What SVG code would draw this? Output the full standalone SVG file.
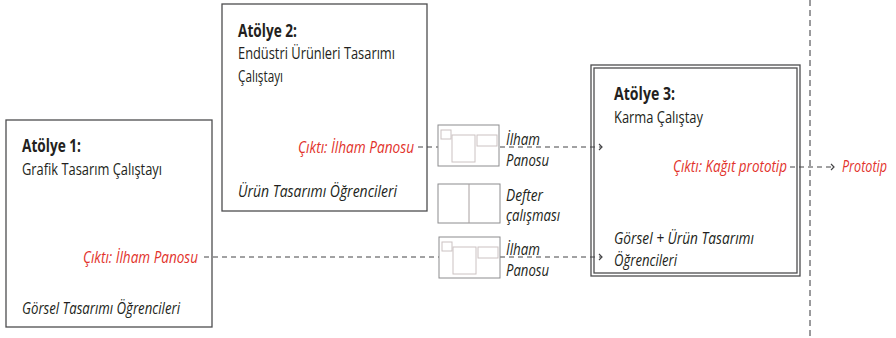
<svg xmlns="http://www.w3.org/2000/svg" xmlns:xlink="http://www.w3.org/1999/xlink" width="896" height="338" viewBox="0 0 896 338">
  <style>
    .box { fill: #ffffff; stroke: #4d4d4f; stroke-width: 1.3; }
    .t { font-family: "Open Sans", "Noto Sans", "Liberation Sans", sans-serif; font-size: 17px; fill: #231f20; }
    .b { font-weight: bold; }
    .i { font-style: italic; }
    .red { fill: #e2322b; font-style: italic; }
    .dash { fill: none; stroke: #444446; stroke-width: 1; stroke-dasharray: 5 4; }
    .divider { fill: none; stroke: #7a7a7c; stroke-width: 1.5; stroke-dasharray: 6 4; }
    .frame { fill: #ffffff; stroke: #8c8c8e; stroke-width: 1; }
    .inner { fill: none; stroke: #cbc2c2; stroke-width: 1; }
  </style>
  <defs>
    <marker id="chev" markerUnits="userSpaceOnUse" markerWidth="10" markerHeight="10" refX="5" refY="5" orient="auto">
      <path d="M2,2 L5,5 L2,8" fill="none" stroke="#444446" stroke-width="1.2"/>
    </marker>
    <!-- mood-board thumbnail -->
    <g id="board">
      <rect class="frame" x="0" y="0" width="61" height="41"/>
      <rect class="inner" x="3" y="5" width="10" height="9"/>
      <rect class="inner" x="14" y="10" width="23" height="27"/>
      <rect class="inner" x="39" y="10" width="20" height="11"/>
    </g>
  </defs>

  <!-- stage divider -->
  <line class="divider" x1="810" y1="0" x2="810" y2="338"/>

  <!-- workshop 1 -->
  <g id="atolye1">
    <rect class="box" x="6" y="120" width="206" height="207"/>
    <text class="t b" x="22" y="152" textLength="59" lengthAdjust="spacingAndGlyphs">Atölye 1:</text>
    <text class="t" x="22" y="175" textLength="140" lengthAdjust="spacingAndGlyphs">Grafik Tasarım Çalıştayı</text>
    <text class="t red" x="83" y="263" textLength="115" lengthAdjust="spacingAndGlyphs">Çıktı: İlham Panosu</text>
    <text class="t i" x="22" y="314" textLength="158" lengthAdjust="spacingAndGlyphs">Görsel Tasarımı Öğrencileri</text>
  </g>

  <!-- workshop 2 -->
  <g id="atolye2">
    <rect class="box" x="222" y="4" width="205" height="207"/>
    <text class="t b" x="238" y="37" textLength="59" lengthAdjust="spacingAndGlyphs">Atölye 2:</text>
    <text class="t" x="238" y="59" textLength="157" lengthAdjust="spacingAndGlyphs">Endüstri Ürünleri Tasarımı</text>
    <text class="t" x="238" y="82" textLength="45" lengthAdjust="spacingAndGlyphs">Çalıştayı</text>
    <text class="t red" x="298" y="153" textLength="116" lengthAdjust="spacingAndGlyphs">Çıktı: İlham Panosu</text>
    <text class="t i" x="238" y="197" textLength="159" lengthAdjust="spacingAndGlyphs">Ürün Tasarımı Öğrencileri</text>
  </g>

  <!-- workshop 3 -->
  <g id="atolye3">
    <rect class="box" x="591" y="65" width="209" height="211"/>
    <rect class="box" x="594" y="68" width="203" height="205"/>
    <text class="t b" x="614" y="100" textLength="61" lengthAdjust="spacingAndGlyphs">Atölye 3:</text>
    <text class="t" x="614" y="123" textLength="89" lengthAdjust="spacingAndGlyphs">Karma Çalıştay</text>
    <text class="t red" x="673" y="172" textLength="114" lengthAdjust="spacingAndGlyphs">Çıktı: Kağıt prototip</text>
    <text class="t i" x="614" y="244" textLength="140" lengthAdjust="spacingAndGlyphs">Görsel + Ürün Tasarımı</text>
    <text class="t i" x="614" y="266" textLength="63" lengthAdjust="spacingAndGlyphs">Öğrencileri</text>
  </g>

  <!-- connectors -->
  <g id="connectors">
    <line class="dash" x1="418" y1="147" x2="438" y2="147"/>
    <line class="dash" x1="500" y1="147" x2="602" y2="147" marker-end="url(#chev)"/>
    <line class="dash" x1="204" y1="257" x2="439" y2="257"/>
    <line class="dash" x1="500" y1="257" x2="602" y2="257" marker-end="url(#chev)"/>
    <line class="dash" x1="790" y1="167" x2="834" y2="167" marker-end="url(#chev)"/>
  </g>

  <!-- intermediate outputs -->
  <g id="pano-ust">
    <use xlink:href="#board" x="438" y="125"/>
    <text class="t i" x="506" y="145" textLength="34" lengthAdjust="spacingAndGlyphs">İlham</text>
    <text class="t i" x="506" y="166" textLength="43" lengthAdjust="spacingAndGlyphs">Panosu</text>
  </g>
  <g id="defter">
    <rect class="frame" x="438" y="184" width="62" height="39"/>
    <line x1="469" y1="184" x2="469" y2="223" stroke="#a8a0a0" stroke-width="1"/>
    <text class="t i" x="506" y="201" textLength="37" lengthAdjust="spacingAndGlyphs">Defter</text>
    <text class="t i" x="506" y="221" textLength="54" lengthAdjust="spacingAndGlyphs">çalışması</text>
  </g>
  <g id="pano-alt">
    <use xlink:href="#board" x="439" y="237"/>
    <text class="t i" x="506" y="255" textLength="34" lengthAdjust="spacingAndGlyphs">İlham</text>
    <text class="t i" x="506" y="276" textLength="43" lengthAdjust="spacingAndGlyphs">Panosu</text>
  </g>

  <!-- final output -->
  <g id="prototip">
    <text class="t red" x="842" y="172" textLength="45" lengthAdjust="spacingAndGlyphs">Prototip</text>
  </g>
</svg>
